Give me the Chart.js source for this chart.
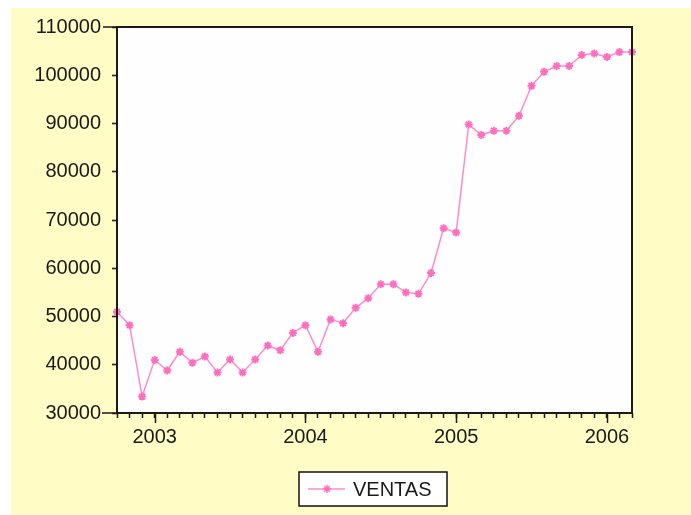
<!DOCTYPE html>
<html>
<head>
<meta charset="utf-8">
<script src="https://cdn.jsdelivr.net/npm/chart.js@4.4.1/dist/chart.umd.min.js"></script>
<style>
  html, body { margin: 0; padding: 0; background: #ffffff; }
  #wrap { width: 691px; height: 515px; position: relative; }
</style>
</head>
<body>
<div id="wrap"><canvas id="c" width="691" height="515"></canvas></div>
<script>
// Monthly observations, October 2002 - March 2006
const categories = [
  '2002M10', '2002M11', '2002M12',
  '2003M01', '2003M02', '2003M03', '2003M04', '2003M05', '2003M06',
  '2003M07', '2003M08', '2003M09', '2003M10', '2003M11', '2003M12',
  '2004M01', '2004M02', '2004M03', '2004M04', '2004M05', '2004M06',
  '2004M07', '2004M08', '2004M09', '2004M10', '2004M11', '2004M12',
  '2005M01', '2005M02', '2005M03', '2005M04', '2005M05', '2005M06',
  '2005M07', '2005M08', '2005M09', '2005M10', '2005M11', '2005M12',
  '2006M01', '2006M02', '2006M03'
];

const ventas = [
  51000, 48200, 33400,
  41000, 38800, 42700, 40400, 41700, 38400,
  41100, 38400, 41100, 44000, 43000, 46600,
  48200, 42700, 49400, 48600, 51800, 53800,
  56700, 56700, 55000, 54700, 59000, 68300,
  67400, 89800, 87600, 88500, 88500, 91600,
  97800, 100700, 101900, 101900, 104200, 104500,
  103800, 104800, 104800
];

const yTickValues = [30000, 40000, 50000, 60000, 70000, 80000, 90000, 100000, 110000];
const seriesName = 'VENTAS';

const FONT = { family: '"Liberation Sans", Arial, sans-serif', size: 20 };
const TEXT = '#1a1a1a';
const LINE = '#ff8ccb';
const MARK = '#ff6fbf';
const AXIS = '#1a1a1a';

// Year label under each January tick
function yearOf(i) {
  const c = categories[i];
  return c && c.endsWith('M01') ? c.slice(0, 4) : '';
}

const decor = {
  id: 'decor',
  beforeDraw(chart) {
    const ctx = chart.ctx;
    const a = chart.chartArea;
    ctx.save();
    ctx.fillStyle = '#ffffff';
    ctx.fillRect(0, 0, chart.width, chart.height);
    ctx.fillStyle = '#fffcc6';
    ctx.fillRect(11, 8, chart.width - 11, chart.height - 8);
    ctx.fillStyle = '#fefefe';
    ctx.fillRect(a.left, a.top, a.right - a.left, a.bottom - a.top);
    ctx.restore();
  },
  afterDraw(chart) {
    const ctx = chart.ctx;
    const a = chart.chartArea;
    const xs = chart.scales.x;
    ctx.save();
    // plot frame
    ctx.strokeStyle = AXIS;
    ctx.lineWidth = 2;
    ctx.strokeRect(a.left, a.top, a.right - a.left, a.bottom - a.top);
    // end ticks of the value axis reach further left
    ctx.lineWidth = 1.5;
    ctx.beginPath();
    ctx.moveTo(a.left - 14, a.top); ctx.lineTo(a.left, a.top);
    ctx.moveTo(a.left - 15, a.bottom); ctx.lineTo(a.left, a.bottom);
    // longer ticks at each January
    categories.forEach((c, i) => {
      if (yearOf(i)) {
        const x = Math.round(xs.getPixelForValue(i)) + 0.5;
        ctx.moveTo(x, a.bottom);
        ctx.lineTo(x, a.bottom + 10);
      }
    });
    ctx.stroke();

    // legend box
    const bx = 299, by = 472, bw = 148, bh = 34;
    ctx.fillStyle = '#ffffff';
    ctx.fillRect(bx, by, bw, bh);
    ctx.strokeStyle = '#111111';
    ctx.lineWidth = 1.5;
    ctx.strokeRect(bx, by, bw, bh);
    const cy = by + bh / 2;
    ctx.strokeStyle = LINE;
    ctx.lineWidth = 1.5;
    ctx.beginPath();
    ctx.moveTo(308, cy); ctx.lineTo(345, cy);
    ctx.stroke();
    ctx.strokeStyle = MARK;
    ctx.fillStyle = MARK;
    Chart.helpers.drawPoint(ctx, { pointStyle: 'star', radius: 4, borderWidth: 2, rotation: 0 }, 327, cy);
    ctx.fillStyle = TEXT;
    ctx.font = FONT.size + 'px ' + FONT.family;
    ctx.textAlign = 'left';
    ctx.textBaseline = 'middle';
    ctx.fillText(chart.data.datasets[0].label, 353, cy + 1);
    ctx.restore();
  }
};

new Chart(document.getElementById('c'), {
  type: 'line',
  data: {
    labels: categories,
    datasets: [{
      label: seriesName,
      data: ventas,
      borderColor: LINE,
      borderWidth: 1.5,
      pointStyle: 'star',
      pointRadius: 4,
      pointBorderWidth: 2,
      pointBorderColor: MARK,
      pointBackgroundColor: MARK,
      tension: 0
    }]
  },
  options: {
    responsive: false,
    animation: false,
    devicePixelRatio: 1,
    layout: { padding: { left: 0, top: 27, right: 59, bottom: 0 } },
    plugins: {
      legend: { display: false },
      tooltip: { enabled: false }
    },
    scales: {
      x: {
        type: 'category',
        offset: false,
        border: { display: false },
        grid: {
          drawOnChartArea: false,
          tickLength: 5,
          tickColor: AXIS,
          tickWidth: 1.5
        },
        ticks: {
          autoSkip: false,
          maxRotation: 0,
          minRotation: 0,
          padding: 7,
          color: TEXT,
          font: FONT,
          callback: (v, i) => yearOf(i)
        },
        afterFit: s => { s.height = 102; }
      },
      y: {
        min: 30000,
        max: 110000,
        border: { display: false },
        afterBuildTicks: s => { s.ticks = yTickValues.map(v => ({ value: v })); },
        grid: {
          drawOnChartArea: false,
          tickLength: 5,
          tickColor: AXIS,
          tickWidth: 1.5
        },
        ticks: {
          padding: 11,
          color: TEXT,
          font: FONT,
          callback: v => String(v)
        },
        afterFit: s => { s.width = 117; }
      }
    }
  },
  plugins: [decor]
});
</script>
</body>
</html>
